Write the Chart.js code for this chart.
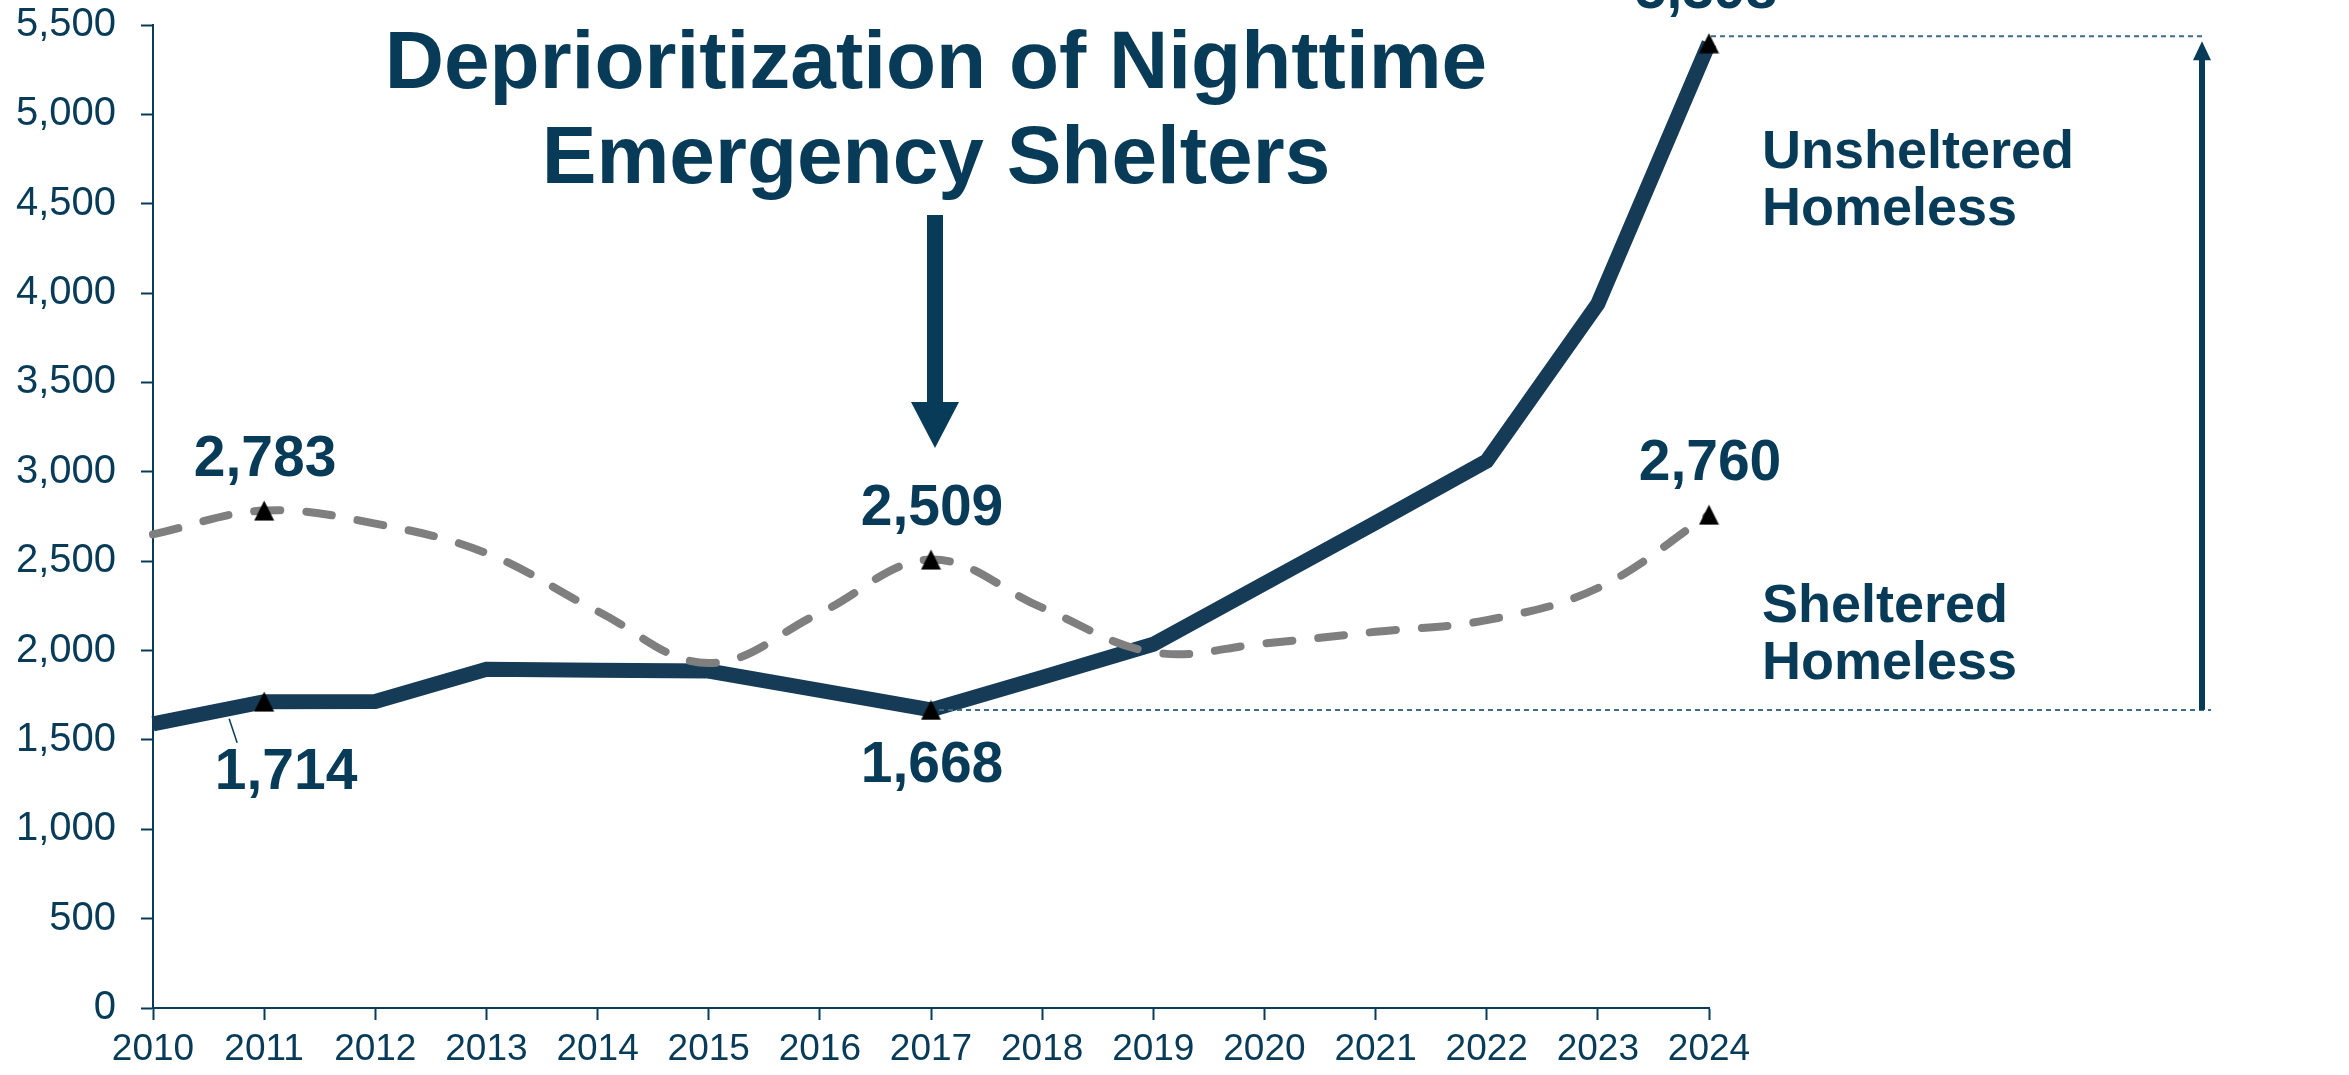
<!DOCTYPE html>
<html>
<head>
<meta charset="utf-8">
<script src="https://cdn.jsdelivr.net/npm/chart.js@4.4.1/dist/chart.umd.min.js"></script>
<style>
  html, body { margin: 0; padding: 0; background: #ffffff; }
  #wrap { width: 2349px; height: 1075px; }
</style>
</head>
<body>
<div id="wrap"><canvas id="c" width="2349" height="1075"></canvas></div>
<script>
// ---- data ----
const years = ['2010','2011','2012','2013','2014','2015','2016','2017','2018','2019','2020','2021','2022','2023','2024'];
const unsheltered = [1590, 1714, 1715, 1895, 1890, 1885, 1777, 1668, 1850, 2035, 2375, 2715, 3060, 3940, 5398];
const sheltered   = [2650, 2783, 2710, 2545, 2220, 1930, 2210, 2509, 2240, 1990, 2040, 2105, 2170, 2350, 2760];
const markedIdx = [1, 7, 14];
const yTicks = [0, 500, 1000, 1500, 2000, 2500, 3000, 3500, 4000, 4500, 5000, 5500];
const titleLines = ['Deprioritization of Nighttime', 'Emergency Shelters'];
const unshelteredLabel = ['Unsheltered', 'Homeless'];
const shelteredLabel = ['Sheltered', 'Homeless'];

const NAVY_TEXT = '#073b58';
const NAVY_LINE = '#163b56';
const GRAY = '#7f7f7f';
const FONT = '"Liberation Sans", Arial, Helvetica, sans-serif';

// triangle marker (centred)
const tri = document.createElement('canvas');
tri.width = 21; tri.height = 21;
(function(){
  const g = tri.getContext('2d');
  g.fillStyle = '#000000';
  g.beginPath(); g.moveTo(10.5, 0.5); g.lineTo(20.5, 20.5); g.lineTo(0.5, 20.5); g.closePath(); g.fill();
})();

const fmt = v => Number(v).toLocaleString('en-US');

const annotations = {
  id: 'annotations',
  afterDatasetsDraw(chart) {
    const ctx = chart.ctx;
    const xs = chart.scales.x, ys = chart.scales.y;
    const px = i => xs.getPixelForValue(i);
    const py = v => ys.getPixelForValue(v);
    ctx.save();

    // dotted guide lines
    ctx.strokeStyle = '#3d6b88';
    ctx.lineWidth = 2;
    ctx.setLineDash([5, 4]);
    const yTop = py(unsheltered[14]) - 7;
    ctx.beginPath(); ctx.moveTo(px(14) + 2, yTop); ctx.lineTo(2203, yTop); ctx.stroke();
    const yBot = py(unsheltered[7]);
    ctx.beginPath(); ctx.moveTo(px(7) + 8, yBot); ctx.lineTo(2211, yBot); ctx.stroke();
    ctx.setLineDash([]);

    // right vertical arrow
    ctx.fillStyle = NAVY_TEXT;
    ctx.fillRect(2199, yTop + 22, 6, yBot - (yTop + 22));
    ctx.beginPath(); ctx.moveTo(2193, yTop + 24); ctx.lineTo(2211, yTop + 24); ctx.lineTo(2202, yTop + 5); ctx.closePath(); ctx.fill();

    // title
    ctx.fillStyle = NAVY_TEXT;
    ctx.textAlign = 'center';
    ctx.textBaseline = 'alphabetic';
    ctx.font = 'bold 82px ' + FONT;
    ctx.fillText(titleLines[0], 936, 88);
    ctx.fillText(titleLines[1], 936, 183);

    // title arrow
    ctx.fillRect(927, 215, 16, 188);
    ctx.beginPath(); ctx.moveTo(911, 402); ctx.lineTo(959, 402); ctx.lineTo(935, 448); ctx.closePath(); ctx.fill();

    // data labels
    ctx.font = 'bold 57px ' + FONT;
    markedIdx.forEach(i => {
      ctx.fillText(fmt(sheltered[i]), px(i) + 1, py(sheltered[i]) - 35);
    });
    ctx.fillText(fmt(unsheltered[1]), px(1) + 22, py(unsheltered[1]) + 87);
    ctx.fillText(fmt(unsheltered[7]), px(7) + 1, py(unsheltered[7]) + 72);
    ctx.fillText(fmt(unsheltered[14]), px(14) - 3, py(unsheltered[14]) - 35);

    // leader line for 1,714
    ctx.strokeStyle = NAVY_TEXT;
    ctx.lineWidth = 1.5;
    ctx.beginPath(); ctx.moveTo(px(1) - 35, py(unsheltered[1]) + 17); ctx.lineTo(px(1) - 27, py(unsheltered[1]) + 41); ctx.stroke();

    // side labels
    ctx.textAlign = 'left';
    ctx.font = 'bold 54px ' + FONT;
    ctx.fillText(unshelteredLabel[0], 1762, 168);
    ctx.fillText(unshelteredLabel[1], 1762, 225);
    ctx.fillText(shelteredLabel[0], 1762, 622);
    ctx.fillText(shelteredLabel[1], 1762, 679);

    ctx.restore();
  }
};

const markerRadius = ctx => markedIdx.includes(ctx.dataIndex) ? 10 : 0;

new Chart(document.getElementById('c'), {
  type: 'line',
  data: {
    labels: years,
    datasets: [
      {
        label: 'Sheltered Homeless',
        data: sheltered,
        borderColor: GRAY,
        borderWidth: 8,
        borderDash: [26, 26],
        borderCapStyle: 'round',
        tension: 0.38,
        fill: false,
        pointStyle: tri,
        pointRadius: markerRadius,
        pointHoverRadius: markerRadius,
        order: 0
      },
      {
        label: 'Unsheltered Homeless',
        data: unsheltered,
        borderColor: NAVY_LINE,
        borderWidth: 15,
        borderJoinStyle: 'miter',
        borderCapStyle: 'butt',
        tension: 0,
        fill: false,
        pointStyle: tri,
        pointRadius: markerRadius,
        pointHoverRadius: markerRadius,
        order: 1
      }
    ]
  },
  options: {
    responsive: false,
    devicePixelRatio: 1,
    animation: false,
    events: [],
    layout: { padding: { left: 0, top: 20, right: 640, bottom: 0 } },
    plugins: { legend: { display: false }, tooltip: { enabled: false }, title: { display: false } },
    scales: {
      x: {
        type: 'category',
        offset: false,
        border: { display: true, color: NAVY_TEXT, width: 2 },
        grid: { drawOnChartArea: false, drawTicks: true, tickLength: 12, color: NAVY_TEXT, tickColor: NAVY_TEXT, tickWidth: 2 },
        ticks: { color: NAVY_TEXT, font: { family: FONT, size: 37 }, padding: 8, maxRotation: 0, autoSkip: false },
        afterFit(scale) { scale.height = 67; scale.paddingLeft = 0; scale.paddingRight = 0; }
      },
      y: {
        min: 0, max: 5500,
        border: { display: true, color: NAVY_TEXT, width: 2 },
        grid: { drawOnChartArea: false, drawTicks: true, tickLength: 12, color: NAVY_TEXT, tickColor: NAVY_TEXT, tickWidth: 2 },
        afterBuildTicks(scale) { scale.ticks = yTicks.map(v => ({ value: v })); },
        ticks: { color: NAVY_TEXT, font: { family: FONT, size: 40 }, padding: 25, callback: v => fmt(v) },
        afterFit(scale) { scale.width = 153; scale.paddingTop = 0; scale.paddingBottom = 0; }
      }
    }
  },
  plugins: [annotations]
});
</script>
</body>
</html>
